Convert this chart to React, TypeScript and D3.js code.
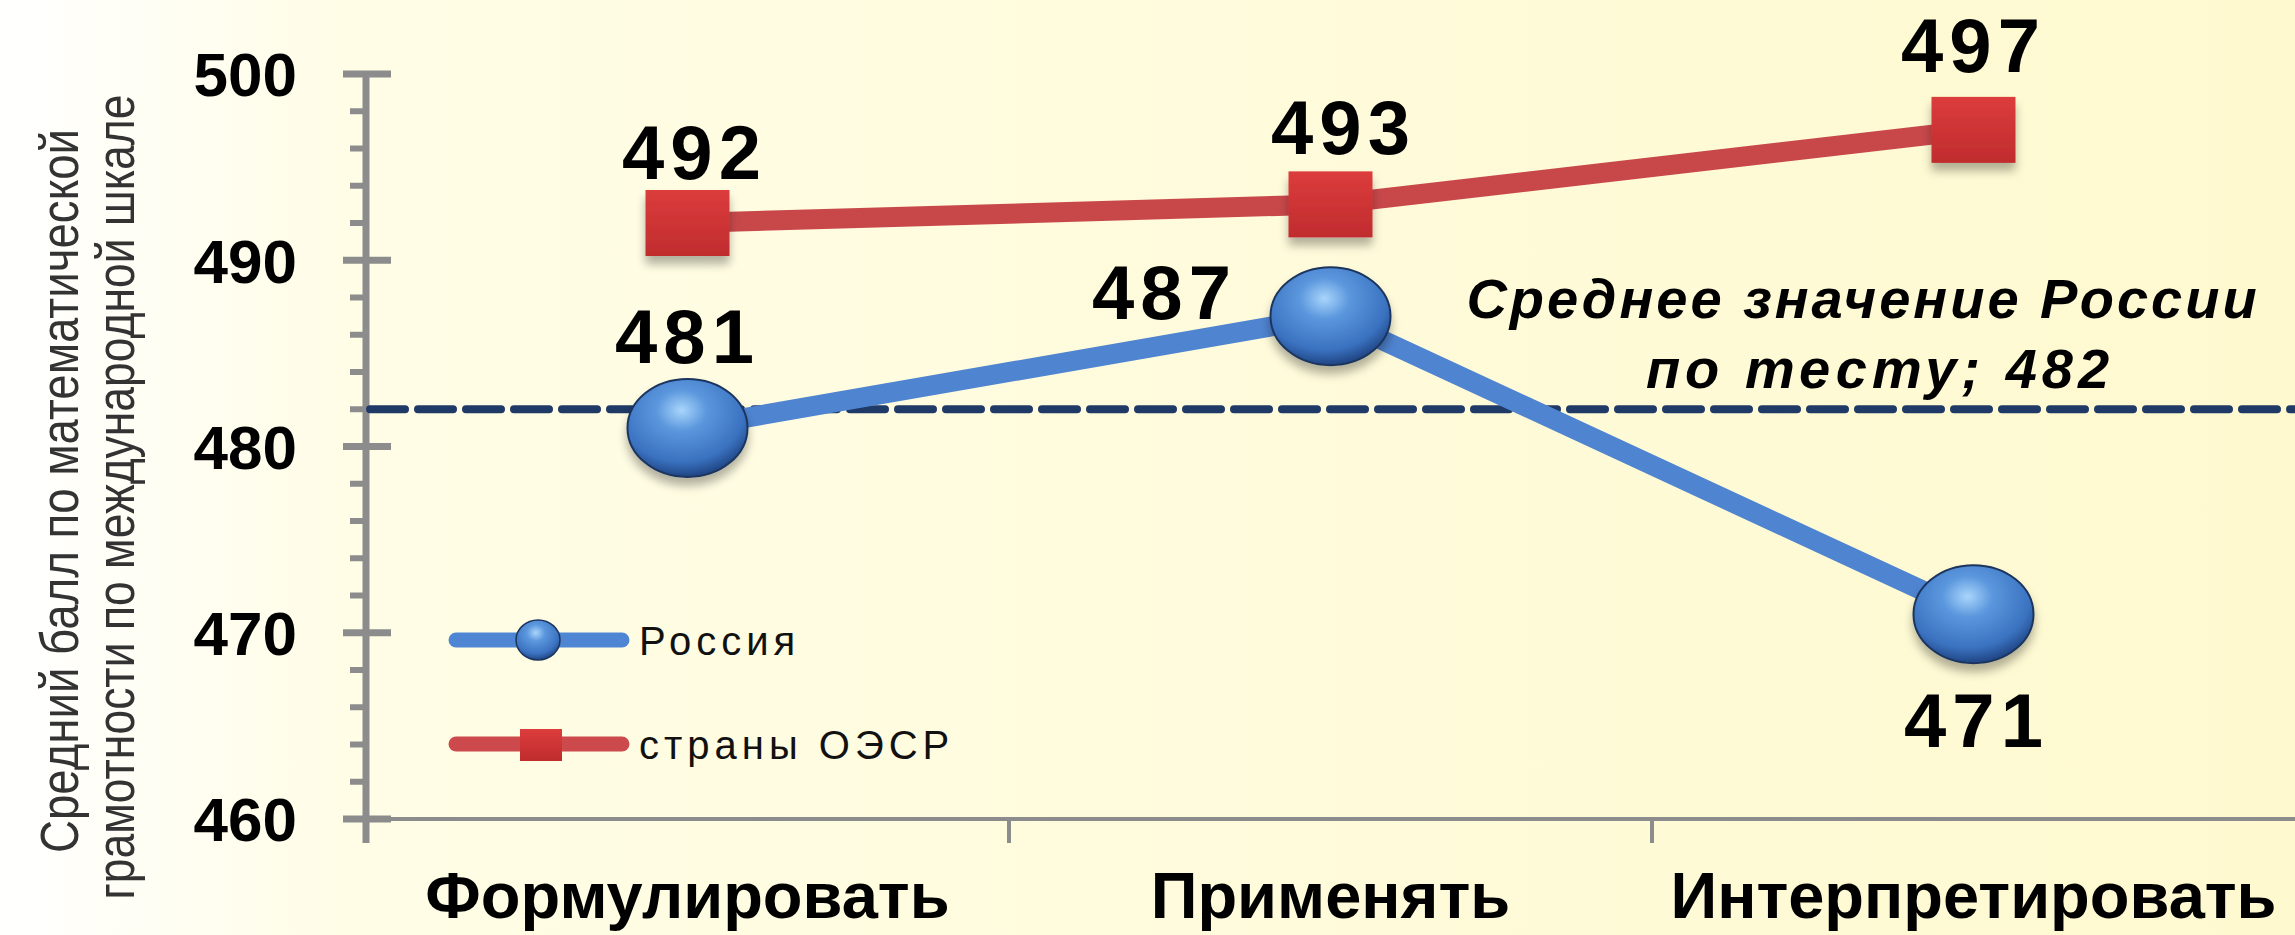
import * as d3 from "d3";
import { useEffect } from "react";

const categories = ["Формулировать", "Применять", "Интерпретировать"];
const russia = [481, 487, 471];
const oecd = [492, 493, 497];
const russiaMean = 482;
const yTicks = [460, 470, 480, 490, 500];
const seriesNames = ["Россия", "страны ОЭСР"];
const axisTitle = ["Средний балл по математической", "грамотности по международной шкале"];
const meanNote = ["Среднее  значение России", "по тесту; 482"];

const W = 2295;
const H = 935;
const font = "'Liberation Sans', Arial, sans-serif";

const App = () => {
  useEffect(() => {
    document.body.style.margin = "0";
  }, []);

  const x = d3.scaleBand().domain(categories).range([366, 2295]).padding(0);
  const y = d3.scaleLinear().domain([460, 500]).range([819, 74]);
  const cx = (i: number) => x(categories[i])! + x.bandwidth() / 2;

  const line = d3
    .line<number>()
    .x((_, i) => cx(i))
    .y((d) => y(d));

  const minor = d3.range(460, 501, 2).filter((v) => v % 10 !== 0);

  // label placement around each point (dx, dy to baseline)
  const oecdLbl = [
    [7, -44],
    [13, -50],
    [0, -58],
  ];
  const rusLbl = [
    [0, -65],
    [-166, 3],
    [3, 133],
  ];

  return (
    <svg width={W} height={H} style={{ position: "absolute", left: 0, top: 0, display: "block" }}>
      <defs>
        <linearGradient id="bg" x1="0" y1="0" x2="1" y2="0">
          <stop offset="0" stopColor="#ffffff" />
          <stop offset="0.15" stopColor="#fffde6" />
          <stop offset="1" stopColor="#fef9cf" />
        </linearGradient>
        <radialGradient id="ball" cx="0.45" cy="0.32" r="0.7">
          <stop offset="0" stopColor="#a9d5fb" />
          <stop offset="0.3" stopColor="#5b97dd" />
          <stop offset="0.75" stopColor="#3a72c0" />
          <stop offset="1" stopColor="#1d3f7c" />
        </radialGradient>
        <linearGradient id="sq" x1="0" y1="0" x2="0" y2="1">
          <stop offset="0" stopColor="#dc3c3c" />
          <stop offset="1" stopColor="#c02c2e" />
        </linearGradient>
        <filter id="shadow" x="-30%" y="-30%" width="160%" height="170%">
          <feDropShadow dx="0" dy="8" stdDeviation="5" floodColor="#000" floodOpacity="0.3" />
        </filter>
      </defs>
      <rect width={W} height={H} fill="url(#bg)" />

      {/* y axis title */}
      {axisTitle.map((t, i) => {
        const bx = [78, 134][i];
        const cy = [491, 497][i];
        return (
          <g key={t} transform={`translate(${bx}, ${cy}) rotate(-90)`}>
            <text
              x={0}
              y={0}
              textAnchor="middle"
              fontFamily={font}
              fontSize={54}
              fill="#333"
              textLength={[724, 805][i]}
              lengthAdjust="spacingAndGlyphs"
            >
              {t}
            </text>
          </g>
        );
      })}

      {/* axes */}
      <g stroke="#8c8c8c" strokeWidth={7}>
        <line x1={366} x2={366} y1={y(500) - 3} y2={843} />
        {yTicks.map((v) => (
          <line key={v} x1={343} x2={391} y1={y(v)} y2={y(v)} />
        ))}
        {minor.map((v) => (
          <line key={v} x1={350} x2={366} y1={y(v)} y2={y(v)} strokeWidth={6} />
        ))}
      </g>
      <g stroke="#8c8c8c" strokeWidth={4}>
        <line x1={366} x2={W} y1={y(460)} y2={y(460)} />
        {categories.slice(1).map((c) => (
          <line key={c} x1={x(c)} x2={x(c)} y1={y(460)} y2={843} />
        ))}
      </g>
      {yTicks.map((v) => (
        <text
          key={v}
          x={297}
          y={y(v)}
          dy="0.36em"
          textAnchor="end"
          fontFamily={font}
          fontWeight="bold"
          fontSize={62}
          fill="#000"
        >
          {v}
        </text>
      ))}
      {categories.map((c) => (
        <text
          key={c}
          x={x(c)! + x.bandwidth() / 2}
          y={918}
          textAnchor="middle"
          fontFamily={font}
          fontWeight="bold"
          fontSize={65}
          fill="#000"
        >
          {c}
        </text>
      ))}

      {/* mean line */}
      <line
        x1={370}
        x2={W}
        y1={y(russiaMean)}
        y2={y(russiaMean)}
        stroke="#1f3a66"
        strokeWidth={8}
        strokeDasharray="35 13"
        strokeLinecap="round"
      />

      {/* series lines */}
      <path d={line(oecd)!} fill="none" stroke="#c8484a" strokeWidth={20} />
      <path d={line(russia)!} fill="none" stroke="#4f84d0" strokeWidth={20} />

      {oecd.map((v, i) => (
        <rect
          key={i}
          x={cx(i) - 42}
          y={y(v) - 33}
          width={84}
          height={66}
          fill="url(#sq)"
          filter="url(#shadow)"
        />
      ))}
      {russia.map((v, i) => (
        <ellipse
          key={i}
          cx={cx(i)}
          cy={y(v)}
          rx={60}
          ry={49}
          fill="url(#ball)"
          stroke="#1c355f"
          strokeWidth={2}
          filter="url(#shadow)"
        />
      ))}

      {/* data labels */}
      {oecd.map((v, i) => (
        <text
          key={i}
          x={cx(i) + oecdLbl[i][0]}
          y={y(v) + oecdLbl[i][1]}
          textAnchor="middle"
          fontFamily={font}
          fontWeight="bold"
          fontSize={76}
          letterSpacing={6}
          fill="#000"
        >
          {v}
        </text>
      ))}
      {russia.map((v, i) => (
        <text
          key={i}
          x={cx(i) + rusLbl[i][0]}
          y={y(v) + rusLbl[i][1]}
          textAnchor="middle"
          fontFamily={font}
          fontWeight="bold"
          fontSize={76}
          letterSpacing={6}
          fill="#000"
        >
          {v}
        </text>
      ))}

      {/* mean annotation */}
      {meanNote.map((t, i) => (
        <text
          key={t}
          x={[1863, 1880][i]}
          y={[318, 388][i]}
          textAnchor="middle"
          fontFamily={font}
          fontStyle="italic"
          fontWeight="bold"
          fontSize={56}
          letterSpacing={[3, 5][i]}
          fill="#000"
        >
          {t}
        </text>
      ))}

      {/* legend */}
      {seriesNames.map((s, i) => {
        const ly = [640, 744][i];
        const col = ["#4f86d4", "#cc4a4c"][i];
        return (
          <g key={s}>
            <line x1={456} x2={622} y1={ly} y2={ly} stroke={col} strokeWidth={15} strokeLinecap="round" />
            {i === 0 ? (
              <ellipse cx={538} cy={ly} rx={22} ry={20} fill="url(#ball)" stroke="#1c355f" strokeWidth={1.5} />
            ) : (
              <rect x={520} y={ly - 15} width={42} height={32} fill="url(#sq)" />
            )}
            <text
              x={639}
              y={ly + 15}
              fontFamily={font}
              fontSize={40}
              letterSpacing={5}
              fill="#111"
            >
              {s}
            </text>
          </g>
        );
      })}
    </svg>
  );
};

export default App;
